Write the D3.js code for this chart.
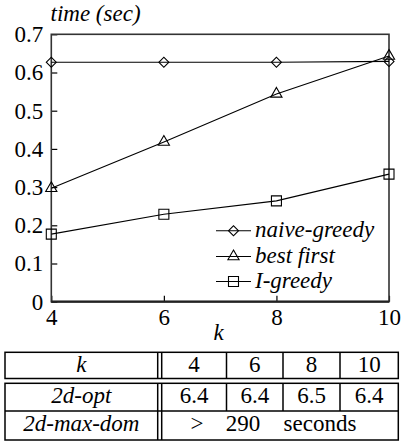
<!DOCTYPE html>
<html><head><meta charset="utf-8">
<script src="https://cdn.jsdelivr.net/npm/d3@7"></script>
</head>
<body style="margin:0">
<svg id="chart" width="406" height="443"></svg>
<script>
// ---- data ----
const kValues = [4, 6, 8, 10];
const naiveGreedy = [0.627, 0.627, 0.627, 0.629];
const bestFirst = [0.297, 0.418, 0.544, 0.643];
const iGreedy = [0.177, 0.229, 0.264, 0.334];
const seriesNames = ["naive-greedy", "best first", "I-greedy"];
const yTicks = [0, 0.1, 0.2, 0.3, 0.4, 0.5, 0.6, 0.7];
const yTickLabels = ["0", "0.1", "0.2", "0.3", "0.4", "0.5", "0.6", "0.7"];
const xTicks = [4, 6, 8, 10];
const yTitle = "time (sec)";
const xTitle = "k";
// table
const tableHeader = ["k", "4", "6", "8", "10"];
const optRowLabel = "2d-opt";
const optRowValues = ["6.4", "6.4", "6.5", "6.4"];
const domRowLabel = "2d-max-dom";
const domRowText = [">", "290", "seconds"];

const FONT = "Times New Roman";
const svg = d3.select("#chart");
const pL = 51.3, pR = 389, pT = 34.3, pB = 301.7;
const x = d3.scaleLinear().domain([4, 10]).range([pL, pR]);
const y = d3.scaleLinear().domain([0, 0.7]).range([pB, pT]);
const FS = 23;

function txt(xp, yp, s, opts) {
  opts = opts || {};
  const t = svg.append("text").attr("x", xp).attr("y", yp)
    .attr("font-size", opts.size || FS)
    .style("font-family", FONT)
    .attr("fill", "#000")
    .attr("text-anchor", opts.anchor || "start").text(s);
  if (opts.italic) t.style("font-style", "italic");
  return t;
}

// axes
const yAxis = d3.axisLeft(y).tickValues(yTicks).tickFormat((d, i) => yTickLabels[i]).tickSize(-6).tickPadding(8);
const gy = svg.append("g").attr("transform", `translate(${pL},0)`).call(yAxis);
const xAxis = d3.axisBottom(x).tickValues(xTicks).tickFormat(d3.format("d")).tickSize(-6).tickPadding(7);
const gx = svg.append("g").attr("transform", `translate(0,${pB})`).call(xAxis);
[gx, gy].forEach(g => {
  g.attr("font-family", null).attr("font-size", FS);
  g.select(".domain").remove();
  g.selectAll(".tick line").attr("stroke", "#000").attr("stroke-width", 1.2);
  g.selectAll(".tick text").style("font-family", FONT).attr("font-size", FS).attr("fill", "#000");
});

// frame
svg.append("rect").attr("x", pL).attr("y", pT).attr("width", pR - pL).attr("height", pB - pT)
  .attr("fill", "none").attr("stroke", "#333").attr("stroke-width", 1.6);
svg.append("line").attr("x1", pL).attr("x2", pR).attr("y1", pB).attr("y2", pB)
  .attr("stroke", "#222").attr("stroke-width", 2.2);

// titles
txt(50.5, 20.5, yTitle, {italic: true});
txt(218.5, 340, xTitle, {italic: true, anchor: "middle"});

// series
const series = [
  {name: seriesNames[0], vals: naiveGreedy, sym: "diamond"},
  {name: seriesNames[1], vals: bestFirst, sym: "triangle"},
  {name: seriesNames[2], vals: iGreedy, sym: "square"}
];
function marker(g, type, cx, cy) {
  let p;
  if (type === "diamond") p = g.append("path").attr("d", d3.symbol(d3.symbolSquare, 50)()).attr("transform", `translate(${cx},${cy}) rotate(45)`);
  else if (type === "triangle") p = g.append("path").attr("d", d3.symbol(d3.symbolTriangle, 54)()).attr("transform", `translate(${cx},${cy})`);
  else p = g.append("path").attr("d", d3.symbol(d3.symbolSquare, 100)()).attr("transform", `translate(${cx},${cy})`);
  p.attr("fill", "none").attr("stroke", "#000").attr("stroke-width", 1.1);
}
const line = d3.line().x((d, i) => x(kValues[i])).y(d => y(d));
series.forEach(s => {
  svg.append("path").datum(s.vals).attr("d", line).attr("fill", "none").attr("stroke", "#000").attr("stroke-width", 1.1);
  const g = svg.append("g");
  s.vals.forEach((v, i) => marker(g, s.sym, x(kValues[i]), y(v)));
});

// legend
const legY = [230.7, 256.5, 281.5];
series.forEach((s, i) => {
  const ly = legY[i];
  svg.append("line").attr("x1", 216).attr("x2", 251).attr("y1", ly).attr("y2", ly).attr("stroke", "#000").attr("stroke-width", 1.1);
  marker(svg, s.sym, 233.5, ly);
  txt(255, ly + 6, s.name, {italic: true});
});

// table
const tl = 5, tr = 398.3;
const colX = [tl, 157.7, 161.7, 226.5, 283, 340, tr];
const hTop = 352.3, hBot = 378.5, bTop = 383.3, bMid = 411, bBot = 440;
const tg = svg.append("g").attr("stroke", "#000").attr("stroke-width", 1.5).attr("fill", "none");
tg.append("rect").attr("x", tl).attr("y", hTop).attr("width", tr - tl).attr("height", hBot - hTop);
tg.append("rect").attr("x", tl).attr("y", bTop).attr("width", tr - tl).attr("height", bBot - bTop);
tg.append("line").attr("x1", tl).attr("x2", tr).attr("y1", bMid).attr("y2", bMid);
[colX[1], colX[2]].forEach(cx => {
  tg.append("line").attr("x1", cx).attr("x2", cx).attr("y1", hTop).attr("y2", hBot);
  tg.append("line").attr("x1", cx).attr("x2", cx).attr("y1", bTop).attr("y2", bBot);
});
[colX[3], colX[4], colX[5]].forEach(cx => {
  tg.append("line").attr("x1", cx).attr("x2", cx).attr("y1", hTop).attr("y2", hBot);
  tg.append("line").attr("x1", cx).attr("x2", cx).attr("y1", bTop).attr("y2", bMid);
});
const firstColC = (colX[0] + colX[1]) / 2;
const cellC = [(colX[2] + colX[3]) / 2, (colX[3] + colX[4]) / 2, (colX[4] + colX[5]) / 2, (colX[5] + colX[6]) / 2];
const hdrBase = 371.7, row2Base = 403.3, row3Base = 430.7;
txt(firstColC, hdrBase, tableHeader[0], {italic: true, anchor: "middle"});
tableHeader.slice(1).forEach((t, i) => txt(cellC[i], hdrBase, t, {anchor: "middle"}));
txt(firstColC, row2Base, optRowLabel, {italic: true, anchor: "middle"});
optRowValues.forEach((t, i) => txt(cellC[i], row2Base, t, {anchor: "middle"}));
txt(firstColC, row3Base, domRowLabel, {italic: true, anchor: "middle"});
// "> 290 seconds" with LaTeX-like spacing
txt(197, row3Base, domRowText[0], {anchor: "middle"});
txt(243, row3Base, domRowText[1], {anchor: "middle"});
txt(320, row3Base, domRowText[2], {anchor: "middle"});
</script>
</body></html>
